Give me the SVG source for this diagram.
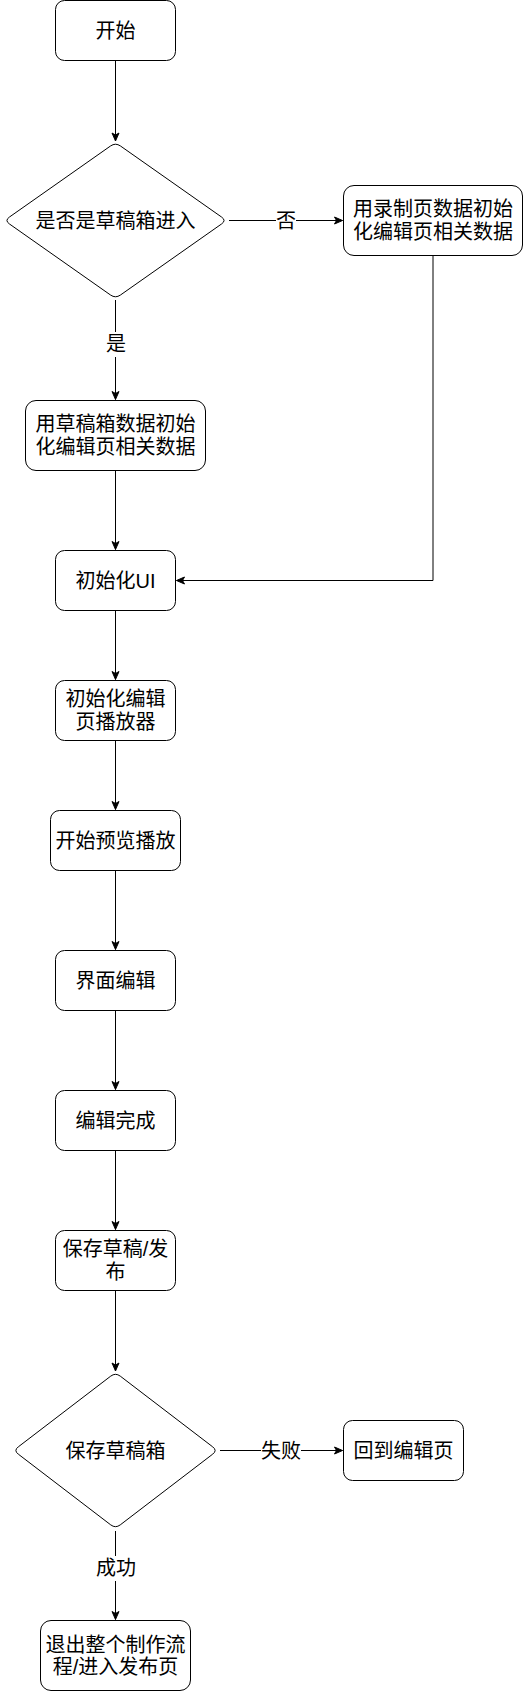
<svg xmlns="http://www.w3.org/2000/svg" width="526" height="1691" viewBox="0 0 526 1691">
<style>
.n{fill:#fff;stroke:#000;stroke-width:1}
.t{font-family:"Liberation Sans","Noto Sans CJK SC",sans-serif;font-size:20px;fill:#000;text-anchor:middle}
.e{fill:none;stroke:#000;stroke-width:1}
.lb{fill:#fff;stroke:none}
</style>
<defs>
<marker id="arr" markerUnits="userSpaceOnUse" markerWidth="12" markerHeight="12" viewBox="-10 -6 12 12" refX="0" refY="0" orient="auto">
<path d="M-8,-3.5 L0,0 L-8,3.5 L-6,0 Z" fill="#000" stroke="#000" stroke-width="1"/>
</marker>
</defs>
<rect width="526" height="1691" fill="#fff"/>
<g id="connectors">
<path class="e" d="M115.5,60.5 V141" marker-end="url(#arr)"/>
<path class="e" d="M229,220.5 H342.5" marker-end="url(#arr)"/>
<path class="e" d="M115.5,300 V399.5" marker-end="url(#arr)"/>
<path class="e" d="M115.5,470.5 V549.5" marker-end="url(#arr)"/>
<path class="e" d="M433,255.5 V580.5 H176.5" marker-end="url(#arr)"/>
<path class="e" d="M115.5,610.5 V679.5" marker-end="url(#arr)"/>
<path class="e" d="M115.5,740.5 V809.5" marker-end="url(#arr)"/>
<path class="e" d="M115.5,870.5 V949.5" marker-end="url(#arr)"/>
<path class="e" d="M115.5,1010.5 V1089.5" marker-end="url(#arr)"/>
<path class="e" d="M115.5,1150.5 V1229.5" marker-end="url(#arr)"/>
<path class="e" d="M115.5,1290.5 V1371" marker-end="url(#arr)"/>
<path class="e" d="M220,1450.5 H342.5" marker-end="url(#arr)"/>
<path class="e" d="M115.5,1531 V1619.5" marker-end="url(#arr)"/>
<rect class="lb" x="276" y="208" width="20" height="25"/>
<text class="t" x="286" y="227.5">否</text>
<rect class="lb" x="106" y="332" width="20" height="25"/>
<text class="t" x="116" y="351">是</text>
<rect class="lb" x="261" y="1438" width="40" height="25"/>
<text class="t" x="281" y="1457.5">失败</text>
<rect class="lb" x="96" y="1556" width="40" height="25"/>
<text class="t" x="116" y="1575">成功</text>
</g>
<g id="start">
<rect class="n" x="55.5" y="0.5" width="120" height="60" rx="9"/>
<text class="t" x="115.5" y="37.5">开始</text>
</g>
<g id="decision-draft">
<path class="n" d="M110.59,145.95 Q115.5,142.5 120.41,145.95 L221.59,217.05 Q226.5,220.5 221.59,223.95 L120.41,295.05 Q115.5,298.5 110.59,295.05 L9.41,223.95 Q4.5,220.5 9.41,217.05 Z"/>
<text class="t" x="115.5" y="227.5">是否是草稿箱进入</text>
</g>
<g id="init-record">
<rect class="n" x="343.5" y="185.5" width="179" height="70" rx="10.5"/>
<text class="t" x="433" y="215.5">用录制页数据初始</text>
<text class="t" x="433" y="238.7">化编辑页相关数据</text>
</g>
<g id="init-draft">
<rect class="n" x="25.5" y="400.5" width="180" height="70" rx="10.5"/>
<text class="t" x="115.5" y="431">用草稿箱数据初始</text>
<text class="t" x="115.5" y="454">化编辑页相关数据</text>
</g>
<g id="init-ui">
<rect class="n" x="55.5" y="550.5" width="120" height="60" rx="9"/>
<text class="t" x="115.5" y="587.5">初始化UI</text>
</g>
<g id="init-player">
<rect class="n" x="55.5" y="680.5" width="120" height="60" rx="9"/>
<text class="t" x="115.5" y="706">初始化编辑</text>
<text class="t" x="115.5" y="729">页播放器</text>
</g>
<g id="preview">
<rect class="n" x="50.5" y="810.5" width="130" height="60" rx="9"/>
<text class="t" x="115.5" y="847.5">开始预览播放</text>
</g>
<g id="edit">
<rect class="n" x="55.5" y="950.5" width="120" height="60" rx="9"/>
<text class="t" x="115.5" y="987.5">界面编辑</text>
</g>
<g id="edit-done">
<rect class="n" x="55.5" y="1090.5" width="120" height="60" rx="9"/>
<text class="t" x="115.5" y="1127.5">编辑完成</text>
</g>
<g id="save-publish">
<rect class="n" x="55.5" y="1230.5" width="120" height="60" rx="9"/>
<text class="t" x="115.5" y="1255.5">保存草稿/发</text>
<text class="t" x="115.5" y="1278.7">布</text>
</g>
<g id="decision-save">
<path class="n" d="M110.73,1376.14 Q115.5,1372.5 120.27,1376.14 L212.73,1446.86 Q217.5,1450.5 212.73,1454.14 L120.27,1524.86 Q115.5,1528.5 110.73,1524.86 L18.27,1454.14 Q13.5,1450.5 18.27,1446.86 Z"/>
<text class="t" x="115.5" y="1457.5">保存草稿箱</text>
</g>
<g id="back-edit">
<rect class="n" x="343.5" y="1420.5" width="120" height="60" rx="9"/>
<text class="t" x="403.5" y="1457.5">回到编辑页</text>
</g>
<g id="exit">
<rect class="n" x="40.5" y="1620.5" width="150" height="70" rx="10.5"/>
<text class="t" x="115.5" y="1652">退出整个制作流</text>
<text class="t" x="115.5" y="1674">程/进入发布页</text>
</g>
</svg>
